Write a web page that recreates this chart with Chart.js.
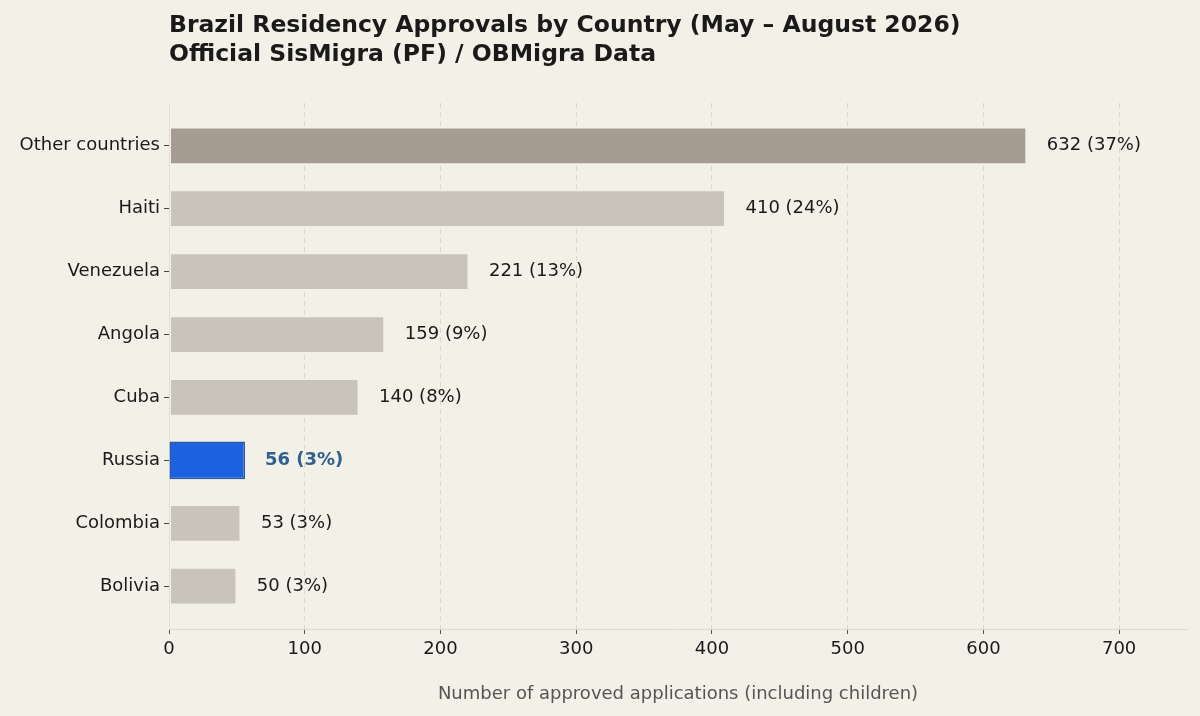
<!DOCTYPE html>
<html>
<head>
<meta charset="utf-8">
<script src="https://cdn.jsdelivr.net/npm/chart.js@4"></script>
<style>
  html, body { margin: 0; padding: 0; background: #f3f0e8; }
  #wrap { width: 1200px; height: 716px; }
</style>
</head>
<body>
<div id="wrap"><canvas id="chart" width="1200" height="716"></canvas></div>
<script>
// Chart data
const countries = ['Other countries', 'Haiti', 'Venezuela', 'Angola', 'Cuba', 'Russia', 'Colombia', 'Bolivia'];
const approvals = [632, 410, 221, 159, 140, 56, 53, 50];
const shares = [37, 24, 13, 9, 8, 3, 3, 3];
const xTicks = [0, 100, 200, 300, 400, 500, 600, 700];

const highlight = 'Russia';
const FONT = '"DejaVu Sans", DejaVuSans, "Bitstream Vera Sans", Verdana, sans-serif';

const barColors = countries.map((c, i) => {
    if (c === highlight) return '#1c62e0';
    if (i === 0) return '#a59d92';
    return '#c8c4b9';
});
const borderColors = countries.map(c => c === highlight ? '#2b5a9e' : 'rgba(0,0,0,0)');

// Background + title
const backdrop = {
    id: 'backdrop',
    beforeDraw(chart) {
        const ctx = chart.ctx;
        ctx.save();
        ctx.fillStyle = '#f3f0e8';
        ctx.fillRect(0, 0, chart.width, chart.height);
        ctx.restore();
    },
    afterDraw(chart) {
        const ctx = chart.ctx;
        ctx.save();
        ctx.fillStyle = '#1a1a1a';
        ctx.font = 'bold 23.5px ' + FONT;
        ctx.textBaseline = 'alphabetic';
        ctx.textAlign = 'left';
        ctx.fillText('Brazil Residency Approvals by Country (May \u2013 August 2026)', 169, 32);
        ctx.fillText('Official SisMigra (PF) / OBMigra Data', 169, 61);
        ctx.restore();
    }
};

// Value labels at the end of each bar
const valueLabels = {
    id: 'valueLabels',
    afterDatasetsDraw(chart) {
        const ctx = chart.ctx;
        const meta = chart.getDatasetMeta(0);
        ctx.save();
        ctx.textBaseline = 'middle';
        ctx.textAlign = 'left';
        meta.data.forEach((bar, i) => {
            const isHi = countries[i] === highlight;
            ctx.font = (isHi ? 'bold ' : '') + '18px ' + FONT;
            ctx.fillStyle = isHi ? '#2f6090' : '#1a1a1a';
            ctx.fillText(approvals[i] + ' (' + shares[i] + '%)', bar.x + 20, bar.y);
        });
        ctx.restore();
    }
};

const points = approvals.map((v, i) => ({ x: v, y: i }));

new Chart(document.getElementById('chart').getContext('2d'), {
    type: 'bar',
    data: {
        datasets: [{
            data: points,
            backgroundColor: barColors,
            borderColor: borderColors,
            borderWidth: 1.5,
            borderSkipped: false,
            barPercentage: 0.6,
            categoryPercentage: 1.0
        }]
    },
    options: {
        indexAxis: 'y',
        responsive: false,
        animation: false,
        devicePixelRatio: 1,
        layout: { padding: { top: 103, right: 13, left: 0, bottom: 0 } },
        plugins: {
            legend: { display: false },
            tooltip: { enabled: false },
            title: { display: false }
        },
        scales: {
            y: {
                type: 'linear',
                reverse: true,
                offset: false,
                min: -0.68,
                max: 7.68,
                afterBuildTicks(scale) {
                    scale.ticks = countries.map((c, i) => ({ value: i }));
                },
                afterFit(scale) { scale.width = 169; },
                ticks: {
                    callback: (v) => countries[v],
                    color: '#1a1a1a',
                    font: { family: FONT, size: 18 },
                    padding: 4
                },
                grid: {
                    offset: false,
                    drawOnChartArea: false,
                    drawTicks: true,
                    tickLength: 5,
                    tickColor: '#444'
                },
                border: { display: true, color: '#e2ded4', width: 1 }
            },
            x: {
                type: 'linear',
                min: 0,
                max: 750,
                afterBuildTicks(scale) {
                    scale.ticks = xTicks.map(v => ({ value: v }));
                },
                afterFit(scale) { scale.height = 87; },
                ticks: {
                    color: '#1a1a1a',
                    font: { family: FONT, size: 18 },
                    padding: 5
                },
                grid: {
                    color: '#dcd7cb',
                    lineWidth: 1,
                    drawTicks: true,
                    tickLength: 5,
                    tickColor: '#555',
                    tickBorderDash: []
                },
                border: { display: true, color: '#dedad0', width: 1, dash: [5, 4] },
                title: {
                    display: true,
                    text: 'Number of approved applications (including children)',
                    color: '#555',
                    font: { family: FONT, size: 18 },
                    padding: { top: 0, bottom: 11 }
                }
            }
        }
    },
    plugins: [backdrop, valueLabels]
});
</script>
</body>
</html>
